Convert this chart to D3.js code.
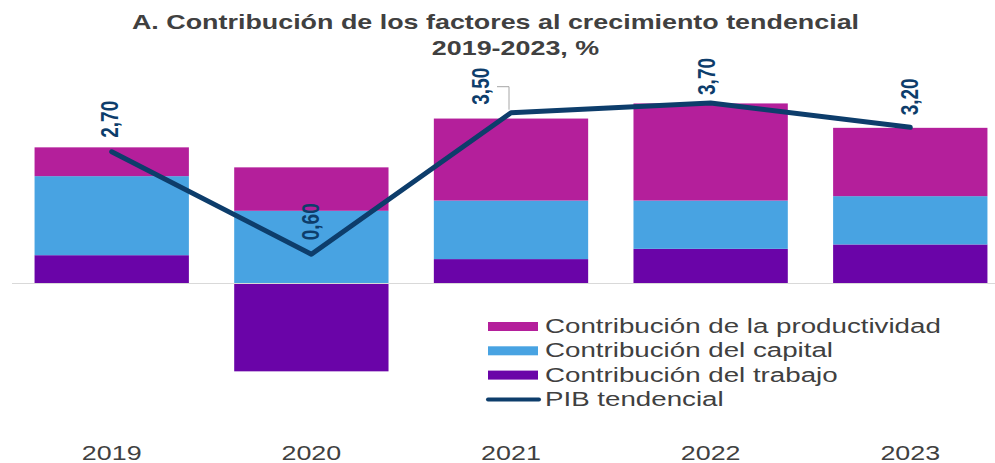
<!DOCTYPE html>
<html lang="es">
<head>
<meta charset="UTF-8">
<title>Contribución de los factores al crecimiento tendencial</title>
<script src="https://d3js.org/d3.v7.min.js"></script>
<style>
  body { margin: 0; background: #fff; }
  svg { display: block; font-family: "Liberation Sans", Arial, sans-serif; }
</style>
</head>
<body>
<div id="chart"></div>
<script>
// datos
const years = ["2019", "2020", "2021", "2022", "2023"];
const productividad = [0.59, 0.89, 1.68, 1.99, 1.40];
const capital = [1.62, 1.49, 1.20, 0.99, 0.99];
const trabajo = [0.58, -1.80, 0.50, 0.71, 0.80];
const pib = [2.70, 0.60, 3.50, 3.70, 3.20];
const pibLabels = ["2,70", "0,60", "3,50", "3,70", "3,20"];

const series = [
  { key: "trabajo", name: "Contribución del trabajo", color: "#6a04a8", values: trabajo },
  { key: "capital", name: "Contribución del capital", color: "#48a3e2", values: capital },
  { key: "productividad", name: "Contribución de la productividad", color: "#b41f9b", values: productividad }
];
const lineColor = "#0d3d6b";
const textColor = "#404040";
const sx = 1.28; // la imagen original está estirada en horizontal

const width = 995, height = 463;

const svg = d3.select("#chart").append("svg")
  .attr("width", width)
  .attr("height", height);

const x = d3.scaleBand()
  .domain(years)
  .range([12, 1010])
  .paddingInner(0.227)
  .paddingOuter(0.113);

const y = d3.scaleLinear()
  .domain([-2, 4])
  .range([381.1, 88.3]);

// tabla para d3.stack
const table = years.map((yr, i) => {
  const row = { year: yr };
  series.forEach(s => row[s.key] = s.values[i]);
  return row;
});

const stacked = d3.stack()
  .keys(series.map(s => s.key))
  .offset(d3.stackOffsetDiverging)(table);

// barras
svg.append("g")
  .selectAll("g")
  .data(stacked)
  .join("g")
  .attr("fill", (d, i) => series[i].color)
  .selectAll("rect")
  .data(d => d)
  .join("rect")
  .attr("x", d => x(d.data.year))
  .attr("width", x.bandwidth())
  .attr("y", d => y(Math.max(d[0], d[1])))
  .attr("height", d => Math.abs(y(d[0]) - y(d[1])));

// línea del cero
svg.append("line")
  .attr("x1", 12).attr("x2", width)
  .attr("y1", y(0)).attr("y2", y(0))
  .attr("stroke", "#d9d9d9")
  .attr("stroke-width", 1);

// PIB tendencial
const cx = i => x(years[i]) + x.bandwidth() / 2;
const line = d3.line()
  .x((d, i) => cx(i))
  .y(d => y(d));

svg.append("path")
  .attr("d", line(pib))
  .attr("fill", "none")
  .attr("stroke", lineColor)
  .attr("stroke-width", 5)
  .attr("stroke-linejoin", "round")
  .attr("stroke-linecap", "round");

// etiquetas rotadas (la de 2021 fue movida a mano, con guía)
const nudge = [{ dx: 0, dy: 0 }, { dx: 2, dy: 0 }, { dx: -28, dy: 6 }, { dx: -2, dy: 6 }, { dx: 2, dy: 2 }];
svg.append("g")
  .selectAll("text")
  .data(pib)
  .join("text")
  .attr("transform", (d, i) =>
    `translate(${cx(i) + 6 + nudge[i].dx},${y(d) - 14 + nudge[i].dy}) scale(${sx},1) rotate(-90)`)
  .attr("fill", lineColor)
  .attr("font-weight", "bold")
  .attr("font-size", 19)
  .text((d, i) => pibLabels[i]);

// guía de la etiqueta 3,50
svg.append("path")
  .attr("d", `M${cx(2) - 14},${y(pib[2]) - 26}H${cx(2) - 2}V${y(pib[2]) - 3}`)
  .attr("fill", "none")
  .attr("stroke", "#a6a6a6")
  .attr("stroke-width", 1);

// título
const title = svg.append("g").attr("fill", textColor).attr("font-weight", "bold").attr("font-size", 21);
title.append("text")
  .attr("transform", `translate(495.5,28.5) scale(${sx},1)`)
  .attr("text-anchor", "middle")
  .text("A. Contribución de los factores al crecimiento tendencial");
title.append("text")
  .attr("transform", `translate(515.5,55) scale(${sx},1)`)
  .attr("text-anchor", "middle")
  .text("2019-2023, %");

// eje x
svg.append("g")
  .selectAll("text")
  .data(years)
  .join("text")
  .attr("transform", d => `translate(${x(d) + x.bandwidth() / 2},459.5) scale(${sx},1)`)
  .attr("text-anchor", "middle")
  .attr("fill", textColor)
  .attr("font-size", 21)
  .text(d => d);

// leyenda
const legendItems = [series[2], series[1], series[0], { name: "PIB tendencial", line: true }];
const legend = svg.append("g");
legendItems.forEach((it, i) => {
  const cy = 326.5 + i * 24.3;
  if (it.line) {
    legend.append("line")
      .attr("x1", 488).attr("x2", 539)
      .attr("y1", cy).attr("y2", cy)
      .attr("stroke", lineColor)
      .attr("stroke-width", 4)
      .attr("stroke-linecap", "round");
  } else {
    legend.append("rect")
      .attr("x", 488).attr("y", cy - 4.5)
      .attr("width", 50).attr("height", 9)
      .attr("fill", it.color);
  }
  legend.append("text")
    .attr("transform", `translate(545,${cy + 6.5}) scale(1.32,1)`)
    .attr("fill", textColor)
    .attr("font-size", 21)
    .text(it.name);
});
</script>
</body>
</html>
